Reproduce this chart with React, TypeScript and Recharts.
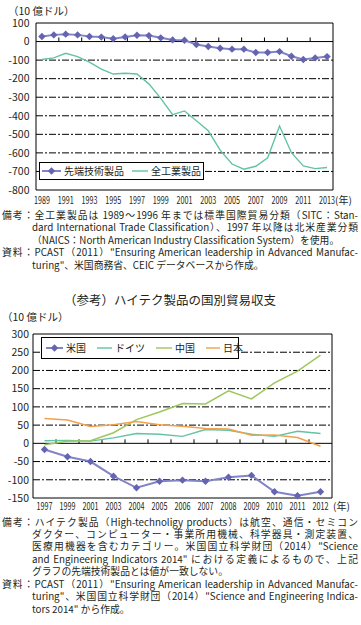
import React from 'react';
import { LineChart, Line, XAxis, YAxis, ReferenceLine, ReferenceArea, Legend } from 'recharts';

const FONT = "'Noto Sans CJK JP', 'Noto Sans', sans-serif";
const TXT = '#231f20';

// ---------- Chart 1 data ----------
const years1 = ['1989', '1990', '1991', '1992', '1993', '1994', '1995', '1996', '1997', '1998', '1999', '2000', '2001', '2002', '2003', '2004', '2005', '2006', '2007', '2008', '2009', '2010', '2011', '2012', '2013'];
const hightech = [27, 36, 40, 36, 27, 24, 15, 25, 34, 32, 20, 9, 7, -16, -27, -36, -41, -41, -59, -59, -54, -79, -97, -88, -81];
const allMfg = [-97, -88, -63, -81, -111, -149, -175, -171, -175, -228, -306, -394, -374, -427, -481, -585, -660, -688, -672, -626, -455, -599, -670, -685, -679];
const yTicks1 = [100, 0, -100, -200, -300, -400, -500, -600, -700, -800];
const grid1 = [-100, -200, -300, -400, -500, -600, -700];
const xLabelIdx1 = [0, 2, 4, 6, 8, 10, 12, 14, 16, 18, 20, 22, 24];
const series1Keys = ['hightech', 'allMfg'];
const series1Names = ['先端技術製品', '全工業製品'];

// ---------- Chart 2 data ----------
const years2 = ['1997', '1999', '2001', '2003', '2004', '2005', '2006', '2007', '2008', '2009', '2010', '2011', '2012'];
const usa = [-17, -37, -50, -90, -122, -104, -101, -104, -93, -88, -133, -144, -133];
const germany = [7, 8, 6, 15, 27, 25, 19, 38, 36, 25, 19, 33, 27];
const china = [-4, 6, 7, 29, 65, 86, 109, 108, 144, 122, 166, 198, 242];
const japan = [68, 64, 46, 51, 60, 51, 47, 41, 39, 22, 23, 16, -8];
const yTicks2 = [300, 250, 200, 150, 100, 50, 0, -50, -100, -150];
const grid2 = [250, 200, 150, 100, 50, -50, -100];
const xLabelIdx2 = [0, 1, 2, 3, 4, 5, 6, 7, 8, 9, 10, 11, 12];
const series2Keys = ['usa', 'germany', 'china', 'japan'];
const series2Names = ['米国', 'ドイツ', '中国', '日本'];

// ---------- Notes ----------
const notes1 = [
  { text: '備考：全工業製品は 1989～1996 年までは標準国際貿易分類（SITC：Stan-', first: true, justify: true },
  { text: 'dard International Trade Classification）、1997 年以降は北米産業分類', first: false, justify: true },
  { text: '（NAICS：North American Industry Classification System）を使用。', first: false, justify: false },
  { text: '資料：PCAST（2011）"Ensuring American leadership in Advanced Manufac-', first: true, justify: true },
  { text: 'turing"、米国商務省、CEIC データベースから作成。', first: false, justify: false },
];
const notes2 = [
  { text: '備考：ハイテク製品（High-technoligy products）は航空、通信・セミコン', first: true, justify: true },
  { text: 'ダクター、コンピューター・事業所用機械、科学器具・測定装置、', first: false, justify: true },
  { text: '医療用機器を含むカテゴリー。米国国立科学財団（2014）"Science', first: false, justify: true },
  { text: 'and Engineering Indicators 2014" における定義によるもので、上記', first: false, justify: true },
  { text: 'グラフの先端技術製品とは値が一致しない。', first: false, justify: false },
  { text: '資料：PCAST（2011）"Ensuring American leadership in Advanced Manufac-', first: true, justify: true },
  { text: 'turing"、米国国立科学財団（2014）"Science and Engineering Indica-', first: false, justify: true },
  { text: 'tors 2014" から作成。', first: false, justify: false },
];

const PURPLE_LINE = '#8383c8';
const PURPLE_DOT = '#6464b2';
const TEAL = '#62c3a4';
const GREEN = '#9dc75c';
const ORANGE = '#f4a04a';
const GRID_DASH = '7 2 2 2';

const data1 = years1.map((y, i) => ({ i, year: y, hightech: hightech[i], allMfg: allMfg[i] }));
const data2 = years2.map((y, i) => ({ i, year: y, usa: usa[i], germany: germany[i], china: china[i], japan: japan[i] }));

// decorative tick marks on the zero line
const divs1 = xLabelIdx1.length;
const tickPos1 = Array.from({ length: divs1 - 1 }, (_, k) => -0.5 + ((k + 1) * years1.length) / divs1);
const tickPos2 = Array.from({ length: years2.length - 1 }, (_, k) => k + 0.5);

const Diamond = (props: any) => {
  const { cx, cy } = props;
  if (cx == null || cy == null) return null;
  const r = 3.7;
  return <path d={`M${cx},${cy - r}L${cx + r},${cy}L${cx},${cy + r}L${cx - r},${cy}Z`} fill={PURPLE_DOT} />;
};

const makeXTick = (labels: string[]) => (props: any) => {
  const { x, y, payload } = props;
  const label = labels[payload.value];
  return (
    <text x={x} y={y} dy="0.71em" textAnchor="middle" fontSize={10} fill={TXT} textLength={16} lengthAdjust="spacingAndGlyphs" fontFamily={FONT}>
      {label}
    </text>
  );
};

const LegendSwatch = ({ color, diamond, w }: { color: string; diamond: boolean; w: number }) => (
  <svg width={w} height={10} style={{ display: 'block', flex: 'none' }}>
    <line x1={0} y1={5} x2={w} y2={5} stroke={diamond ? PURPLE_LINE : color} strokeWidth={diamond ? 2 : 1.4} />
    {diamond ? <path d={`M${w / 2},1.3L${w / 2 + 3.7},5L${w / 2},8.7L${w / 2 - 3.7},5Z`} fill={PURPLE_DOT} /> : null}
  </svg>
);

const makeLegend = (opts: { order: string[]; swatchW: number[]; gap: number; pad: number; fontSize: number }) => (props: any) => {
  const raw = props.payload || [];
  const payload = opts.order.map((k) => raw.find((e: any) => e.dataKey === k)).filter(Boolean);
  return (
    <div
      style={{
        display: 'flex',
        alignItems: 'center',
        width: '100%',
        height: '100%',
        border: '1px solid #000',
        background: '#fff',
        boxSizing: 'border-box',
        paddingLeft: opts.pad,
        fontFamily: FONT,
        fontSize: opts.fontSize,
        color: TXT,
        whiteSpace: 'nowrap',
        lineHeight: 1,
      }}
    >
      {payload.map((e: any, idx: number) => (
        <div key={idx} style={{ display: 'flex', alignItems: 'center', marginRight: opts.gap }}>
          <LegendSwatch color={e.color} diamond={idx === 0} w={opts.swatchW[idx]} />
          <span style={{ marginLeft: 3 }}>{e.value}</span>
        </div>
      ))}
    </div>
  );
};

const NoteBlock = ({ lines, top }: { lines: { text: string; first: boolean; justify: boolean }[]; top: number }) => (
  <>
    {lines.map((l, idx) => {
      const left = l.first ? 2 : 32;
      return (
        <div
          key={idx}
          style={{
            position: 'absolute',
            top: top + idx * 12.45,
            left,
            width: 358 - left,
            height: 12,
            whiteSpace: 'nowrap',
            textAlign: l.justify ? 'justify' : 'left',
            textAlignLast: l.justify ? 'justify' : 'left',
            lineHeight: '12px',
            fontSize: 9.8,
            fontFamily: FONT,
            color: TXT,
          }}
        >
          {l.text}
        </div>
      );
    })}
  </>
);

export default function App() {
  return (
    <div style={{ position: 'absolute', left: 0, top: 0, width: 361, height: 625, background: '#fff', fontFamily: FONT, overflow: 'hidden' }}>
      {/* Chart 1 */}
      <div style={{ position: 'absolute', left: 0, top: 0 }}>
        <LineChart width={361} height={210} data={data1} margin={{ top: 23, right: 28, left: 0, bottom: 4 }}>
          <XAxis
            type="number"
            dataKey="i"
            domain={[-0.5, years1.length - 0.5]}
            ticks={xLabelIdx1}
            interval={0}
            axisLine={false}
            tickLine={false}
            tickSize={4}
            tickMargin={2.5}
            height={16}
            tick={makeXTick(years1)}
          />
          <YAxis
            domain={[-800, 100]}
            ticks={yTicks1}
            interval={0}
            axisLine={false}
            tickLine={false}
            tickSize={4}
            tickMargin={2.5}
            width={36}
            tick={{ fontSize: 10.5, fill: TXT, fontFamily: FONT }}
          />
          {grid1.map((v) => (
            <ReferenceLine key={v} y={v} stroke="#000" strokeWidth={1} strokeDasharray={GRID_DASH} />
          ))}
          <ReferenceLine y={0} stroke="#000" strokeWidth={1} />
          {tickPos1.map((p) => (
            <ReferenceLine key={p} segment={[{ x: p, y: 0 }, { x: p, y: 22 }]} stroke="#000" strokeWidth={1} />
          ))}
          <ReferenceArea x1={-0.5} x2={years1.length - 0.5} y1={-800} y2={100} fill="none" fillOpacity={0} stroke="#000" strokeWidth={1} />
          <Line dataKey="allMfg" name={series1Names[1]} stroke={TEAL} strokeWidth={1.4} dot={false} isAnimationActive={false} />
          <Line
            dataKey="hightech"
            name={series1Names[0]}
            stroke={PURPLE_LINE}
            strokeWidth={2}
            dot={(p: any) => <Diamond key={`d1-${p.index}`} {...p} />}
            isAnimationActive={false}
          />
          <Legend
            layout="vertical"
            align="center"
            verticalAlign="middle"
            content={makeLegend({ order: series1Keys, swatchW: [19, 16], gap: 8, pad: 2, fontSize: 10 })}
            wrapperStyle={{ left: 39, top: 162, width: 165, height: 18 }}
          />
        </LineChart>
      </div>
      <div style={{ position: 'absolute', left: 8, top: 4.5, fontSize: 10.5, color: TXT, lineHeight: '12px' }}>（10 億ドル）</div>
      <div style={{ position: 'absolute', left: 335, top: 194, fontSize: 10, color: TXT, lineHeight: '12px' }}>(年)</div>

      <NoteBlock lines={notes1} top={209} />

      {/* Chart 2 */}
      <div style={{ position: 'absolute', left: 0, width: 340, top: 291, textAlign: 'center', fontSize: 12.5, color: TXT, lineHeight: '18px' }}>
        （参考）ハイテク製品の国別貿易収支
      </div>
      <div style={{ position: 'absolute', left: 0, top: 320 }}>
        <LineChart width={361} height={195} data={data2} margin={{ top: 14, right: 29, left: 0, bottom: 2 }}>
          <XAxis
            type="number"
            dataKey="i"
            domain={[-0.5, years2.length - 0.5]}
            ticks={xLabelIdx2}
            interval={0}
            axisLine={false}
            tickLine={false}
            tickSize={2}
            tickMargin={2.5}
            height={15}
            tick={makeXTick(years2)}
          />
          <YAxis
            domain={[-150, 300]}
            ticks={yTicks2}
            interval={0}
            axisLine={false}
            tickLine={false}
            tickSize={2}
            tickMargin={2}
            width={33}
            tick={{ fontSize: 10.5, fill: TXT, fontFamily: FONT }}
          />
          {grid2.map((v) => (
            <ReferenceLine key={v} y={v} stroke="#000" strokeWidth={1} strokeDasharray={GRID_DASH} />
          ))}
          <ReferenceLine y={0} stroke="#000" strokeWidth={1} />
          {tickPos2.map((p) => (
            <ReferenceLine key={p} segment={[{ x: p, y: 0 }, { x: p, y: 11 }]} stroke="#000" strokeWidth={1} />
          ))}
          <ReferenceArea x1={-0.5} x2={years2.length - 0.5} y1={-150} y2={300} fill="none" fillOpacity={0} stroke="#000" strokeWidth={1} />
          <Line dataKey="usa" name={series2Names[0]} stroke={PURPLE_LINE} strokeWidth={2} dot={(p: any) => <Diamond key={`d2-${p.index}`} {...p} />} isAnimationActive={false} />
          <Line dataKey="germany" name={series2Names[1]} stroke={TEAL} strokeWidth={1.4} dot={false} isAnimationActive={false} />
          <Line dataKey="china" name={series2Names[2]} stroke={GREEN} strokeWidth={1.5} dot={false} isAnimationActive={false} />
          <Line dataKey="japan" name={series2Names[3]} stroke={ORANGE} strokeWidth={1.5} dot={false} isAnimationActive={false} />
          <Legend
            layout="vertical"
            align="center"
            verticalAlign="middle"
            content={makeLegend({ order: series2Keys, swatchW: [17, 15, 16, 14], gap: 11, pad: 4, fontSize: 10 })}
            wrapperStyle={{ left: 41, top: 16.5, width: 198, height: 22.5 }}
          />
        </LineChart>
      </div>
      <div style={{ position: 'absolute', left: 2, top: 311, fontSize: 10.5, color: TXT, lineHeight: '12px' }}>（10 億ドル）</div>
      <div style={{ position: 'absolute', left: 333, top: 500, fontSize: 10, color: TXT, lineHeight: '12px' }}>(年)</div>

      <NoteBlock lines={notes2} top={515.5} />
    </div>
  );
}
